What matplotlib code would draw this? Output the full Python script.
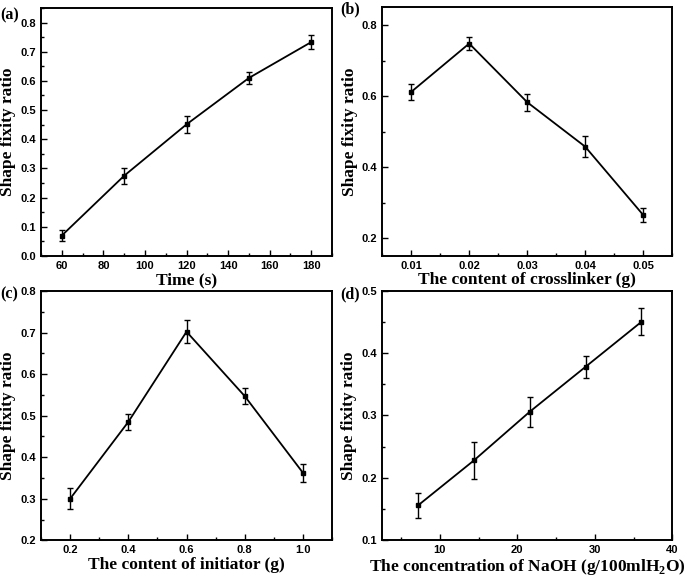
import matplotlib
matplotlib.use("Agg")
import matplotlib.pyplot as plt
from matplotlib.ticker import MultipleLocator

plt.rcParams['mathtext.fontset'] = 'custom'
plt.rcParams['mathtext.rm'] = 'Liberation Serif:bold'
plt.rcParams['mathtext.bf'] = 'Liberation Serif:bold'

# Panel (a)
time_s = [60, 90, 120, 150, 180]
fix_a = [0.07, 0.275, 0.451, 0.610, 0.733]
err_a = [0.020, 0.027, 0.030, 0.021, 0.023]

# Panel (b)
crosslinker_g = [0.01, 0.02, 0.03, 0.04, 0.05]
fix_b = [0.612, 0.748, 0.583, 0.458, 0.266]
err_b = [0.0235, 0.019, 0.0235, 0.030, 0.020]

# Panel (c)
initiator_g = [0.2, 0.4, 0.6, 0.8, 1.0]
fix_c = [0.300, 0.485, 0.702, 0.547, 0.3625]
err_c = [0.025, 0.0185, 0.027, 0.020, 0.022]

# Panel (d)
naoh_conc = [7.2, 14.4, 21.6, 28.8, 36.0]
fix_d = [0.156, 0.228, 0.306, 0.378, 0.450]
err_d = [0.020, 0.030, 0.024, 0.018, 0.0217]

panels = [
    dict(x=time_s, y=fix_a, e=err_a, label='(a)', xlabel='Time (s)',
         xlim=(50, 190), ylim=(0, 0.85), xmaj=20, xmin=10, ymaj=0.1, ymin=None,
         xfmt='{:.0f}', yfmt='{:.1f}',
         rect=[0.0599, 0.5556, 0.4248, 0.4306], lab_xy=(0.0, 0.988)),
    dict(x=crosslinker_g, y=fix_b, e=err_b, label='(b)',
         xlabel='The content of crosslinker (g)',
         xlim=(0.005, 0.055), ylim=(0.15, 0.85), xmaj=0.01, xmin=0.005,
         ymaj=0.2, ymin=0.1, xfmt='{:.2f}', yfmt='{:.1f}',
         rect=[0.5581, 0.5556, 0.4229, 0.4317], lab_xy=(0.497, 0.998)),
    dict(x=initiator_g, y=fix_c, e=err_c, label='(c)',
         xlabel='The content of initiator (g)',
         xlim=(0.1, 1.1), ylim=(0.2, 0.8), xmaj=0.2, xmin=0.1,
         ymaj=0.1, ymin=None, xfmt='{:.1f}', yfmt='{:.1f}',
         rect=[0.0599, 0.0620, 0.4248, 0.4328], lab_xy=(0.0, 0.502)),
    dict(x=naoh_conc, y=fix_d, e=err_d, label='(d)',
         xlabel='The concentration of NaOH (g/100mlH$_\\mathbf{2}$O)',
         xlim=(2.5, 40), ylim=(0.1, 0.5), xmaj=10, xmin=5,
         ymaj=0.1, ymin=None, xfmt='{:.0f}', yfmt='{:.1f}',
         rect=[0.5572, 0.0620, 0.4243, 0.4333], lab_xy=(0.497, 0.502)),
]

fig = plt.figure(figsize=(6.85, 5.76), dpi=100)

for p in panels:
    ax = fig.add_axes(p['rect'])
    ax.errorbar(p['x'], p['y'], yerr=p['e'], color='black', lw=1.3,
                marker='s', ms=3.5, capsize=2.5, elinewidth=1.0, capthick=1.0)
    ax.set_xlim(*p['xlim'])
    ax.set_ylim(*p['ylim'])
    ax.xaxis.set_major_locator(MultipleLocator(p['xmaj']))
    ax.xaxis.set_minor_locator(MultipleLocator(p['xmin']))
    ax.yaxis.set_major_locator(MultipleLocator(p['ymaj']))
    if p['ymin'] is not None:
        ax.yaxis.set_minor_locator(MultipleLocator(p['ymin']))
    else:
        ax.yaxis.set_minor_locator(MultipleLocator(p['ymaj'] / 2))
    ax.tick_params(which='both', direction='in', top=False, right=False,
                   width=1.0)
    ax.tick_params(which='major', length=4)
    ax.tick_params(which='minor', length=2)
    xf, yf = p['xfmt'], p['yfmt']
    ax.xaxis.set_major_formatter(plt.FuncFormatter(lambda v, pos, f=xf: f.format(v)))
    ax.yaxis.set_major_formatter(plt.FuncFormatter(lambda v, pos, f=yf: f.format(v)))
    for t in ax.get_xticklabels() + ax.get_yticklabels():
        t.set_fontfamily('Liberation Sans')
        t.set_fontweight('bold')
        t.set_fontsize(8)
    for s in ax.spines.values():
        s.set_linewidth(1.4)
    ax.set_xlabel(p['xlabel'], fontfamily='Liberation Serif', fontweight='bold',
                  fontsize=12.5, labelpad=1)
    ax.set_ylabel('Shape fixity ratio', fontfamily='Liberation Serif',
                  fontweight='bold', fontsize=12.5, labelpad=3)
    fig.text(p['lab_xy'][0], p['lab_xy'][1], p['label'],
             fontfamily='Liberation Serif', fontweight='bold', fontsize=11.5,
             ha='left', va='top')

fig.savefig('out.png', dpi=100)
